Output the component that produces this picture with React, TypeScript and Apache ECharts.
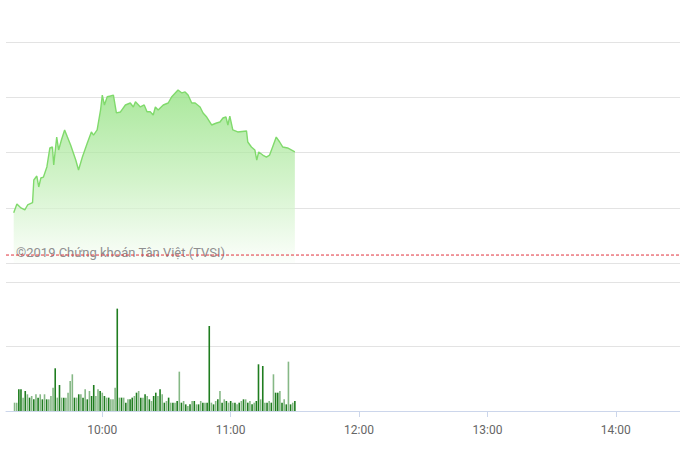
import React, { useEffect, useRef } from "react";
import * as echarts from "echarts";

// minutes after 09:00
const priceTimes = [18.6, 20.1, 22.0, 23.8, 25.1, 27.4, 28.0, 29.4, 30.3, 31.3, 32.5, 34.1, 35.5, 36.7, 37.3, 38.7, 39.6, 40.9, 42.4, 43.7, 45.2, 47.6, 48.9, 50.7, 53.0, 54.9, 55.9, 57.6, 59.2, 60.0, 61.0, 62.3, 63.8, 65.2, 66.6, 68.5, 70.8, 73.1, 74.5, 75.5, 77.8, 79.6, 80.9, 82.4, 83.8, 84.8, 86.1, 88.5, 90.8, 92.5, 94.1, 95.4, 97.2, 98.7, 100.1, 101.8, 103.4, 105.7, 107.1, 108.8, 111.1, 113.4, 115.0, 116.4, 117.8, 118.7, 119.6, 121.0, 123.3, 127.4, 128.0, 129.7, 131.3, 132.2, 133.1, 135.0, 136.7, 138.2, 139.6, 141.3, 142.9, 144.3, 146.6, 148.3, 150.0];
const priceValues = [959.55, 960.34, 959.98, 959.8, 960.25, 960.46, 962.51, 962.87, 961.88, 962.69, 962.78, 963.69, 965.41, 965.5, 963.87, 966.4, 965.23, 966.13, 967.04, 966.4, 965.68, 964.32, 963.42, 964.59, 965.86, 966.86, 966.58, 967.04, 968.85, 970.2, 969.3, 970.05, 970.11, 970.2, 968.58, 968.67, 969.3, 969.48, 969.12, 969.6, 969.12, 969.3, 968.69, 968.69, 968.39, 969.12, 968.85, 969.3, 969.48, 970.05, 970.39, 970.66, 970.39, 970.48, 970.2, 969.48, 969.48, 969.12, 968.58, 968.21, 967.49, 967.67, 967.76, 968.12, 968.21, 967.49, 968.3, 967.04, 966.86, 966.95, 965.95, 965.5, 965.23, 964.32, 965.05, 964.77, 964.59, 964.77, 965.5, 966.4, 965.95, 965.5, 965.41, 965.23, 965.05];
const referencePrice = 955.72;
const sessionStart = 15; // 09:15
const sessionEnd = 330; // 14:30

// one bar per minute, 09:19 .. 11:30
const volumeStartMinute = 19;
const volumes = [
  129, 129, 336, 336, 207, 310, 259, 207, 233, 181, 259, 207, 259, 181, 259, 181, 181, 233, 362, 662,
  207, 403, 207, 207, 207, 284, 465, 569, 207, 207, 259, 259, 207, 336, 181, 310, 233, 403, 233, 336,
  310, 284, 233, 207, 207, 181, 181, 362, 1587, 207, 207, 207, 129, 181, 181, 207, 233, 284, 310, 207,
  207, 259, 233, 181, 155, 233, 284, 233, 336, 259, 129, 155, 207, 129, 129, 129, 155, 610, 129, 155,
  103, 78, 103, 155, 155, 103, 103, 155, 129, 129, 129, 1318, 129, 103, 155, 181, 310, 129, 181, 155,
  129, 155, 129, 129, 103, 129, 155, 181, 181, 129, 155, 103, 129, 155, 724, 181, 698, 129, 129, 155,
  129, 569, 284, 284, 310, 129, 181, 103, 765, 103, 129, 155
];
const volumeDark = [
  0, 0, 1, 1, 0, 1, 0, 1, 0, 1, 0, 1, 0, 1, 0, 1, 0, 0, 0, 1,
  0, 1, 0, 1, 0, 0, 0, 0, 1, 0, 1, 0, 1, 0, 1, 0, 1, 1, 0, 0,
  1, 0, 1, 0, 1, 0, 0, 0, 1, 0, 1, 0, 1, 0, 1, 1, 0, 1, 0, 1,
  0, 1, 0, 1, 0, 1, 1, 0, 1, 0, 1, 0, 1, 0, 1, 0, 1, 0, 1, 0,
  1, 0, 1, 0, 1, 0, 1, 0, 1, 0, 1, 1, 0, 1, 0, 1, 0, 1, 0, 1,
  0, 1, 0, 1, 0, 1, 0, 1, 0, 1, 0, 1, 0, 1, 1, 0, 1, 0, 1, 0,
  1, 0, 1, 1, 0, 1, 0, 1, 0, 1, 0, 1
];
const hourTicks = [60, 120, 180, 240, 300];
const watermark = "©2019 Chứng khoán Tân Việt (TVSI)";

const fmtTime = (v: number) => {
  const h = Math.floor(v / 60) + 9;
  const m = Math.round(v % 60);
  return `${h}:${m < 10 ? "0" + m : m}`;
};

export default function App() {
  const ref = useRef<HTMLDivElement>(null);
  useEffect(() => {
    if (!ref.current) return;
    const chart = echarts.init(ref.current, undefined, { renderer: "svg" });
    const priceData = priceTimes.map((t, i) => [t, priceValues[i]]);
    const volData = volumes.map((v, i) => ({
      value: [volumeStartMinute + i, v],
      itemStyle: { color: volumeDark[i] ? "#1f7d1f" : "#86b886" },
    }));
    chart.setOption({
      animation: false,
      backgroundColor: "#ffffff",
      grid: [
        { left: 6, right: 0, top: 42, height: 221 },
        { left: 6, right: 0, top: 282, height: 129 },
      ],
      xAxis: [
        {
          type: "value", gridIndex: 0, min: sessionStart, max: sessionEnd,
          axisLine: { show: false }, axisTick: { show: false },
          axisLabel: { show: false }, splitLine: { show: false },
        },
        {
          type: "value", gridIndex: 1, min: sessionStart, max: sessionEnd,
          axisLine: { show: true, lineStyle: { color: "#ccd6eb", width: 1 } },
          axisTick: { show: true, customValues: hourTicks, length: 6, lineStyle: { color: "#ccd6eb" } },
          axisLabel: {
            show: true, customValues: hourTicks, formatter: (v: number) => fmtTime(v),
            color: "#666666", fontSize: 12, fontFamily: "Roboto", margin: 13,
          },
          splitLine: { show: false },
        },
      ],
      yAxis: [
        {
          type: "value", gridIndex: 0, min: 955, max: 975, interval: 5,
          axisLine: { show: false }, axisTick: { show: false }, axisLabel: { show: false },
          splitLine: { show: true, lineStyle: { color: "#e3e3e3", width: 1 } },
        },
        {
          type: "value", gridIndex: 1, min: 0, max: 2000, interval: 1000,
          axisLine: { show: false }, axisTick: { show: false }, axisLabel: { show: false },
          splitLine: { show: true, lineStyle: { color: "#e3e3e3", width: 1 } },
        },
      ],
      graphic: [
        {
          type: "text", left: 16, top: 246, z: 10,
          style: { text: watermark, fill: "#8f8f8f", font: "13px Roboto" },
        },
      ],
      series: [
        {
          type: "line", xAxisIndex: 0, yAxisIndex: 0, data: priceData,
          showSymbol: false, symbol: "none", z: 2,
          lineStyle: { color: "#80da6c", width: 1.4 },
          areaStyle: {
            color: new echarts.graphic.LinearGradient(0, 0, 0, 1, [
              { offset: 0, color: "#86de72" },
              { offset: 0.55, color: "#c3efb8" },
              { offset: 1, color: "#fbfefa" },
            ]),
          },
        },
        {
          type: "line", xAxisIndex: 0, yAxisIndex: 0, z: 20, silent: true,
          data: [[sessionStart, referencePrice], [sessionEnd, referencePrice]],
          showSymbol: false, symbol: "none",
          lineStyle: { color: "#e0323c", type: [3, 2], width: 1 },
        },
        {
          type: "bar", xAxisIndex: 1, yAxisIndex: 1, data: volData, barWidth: 1.6,
        },
      ],
    });
    return () => chart.dispose();
  }, []);
  return <div ref={ref} style={{ position: "absolute", left: 0, top: 0, width: 680, height: 454 }} />;
}
